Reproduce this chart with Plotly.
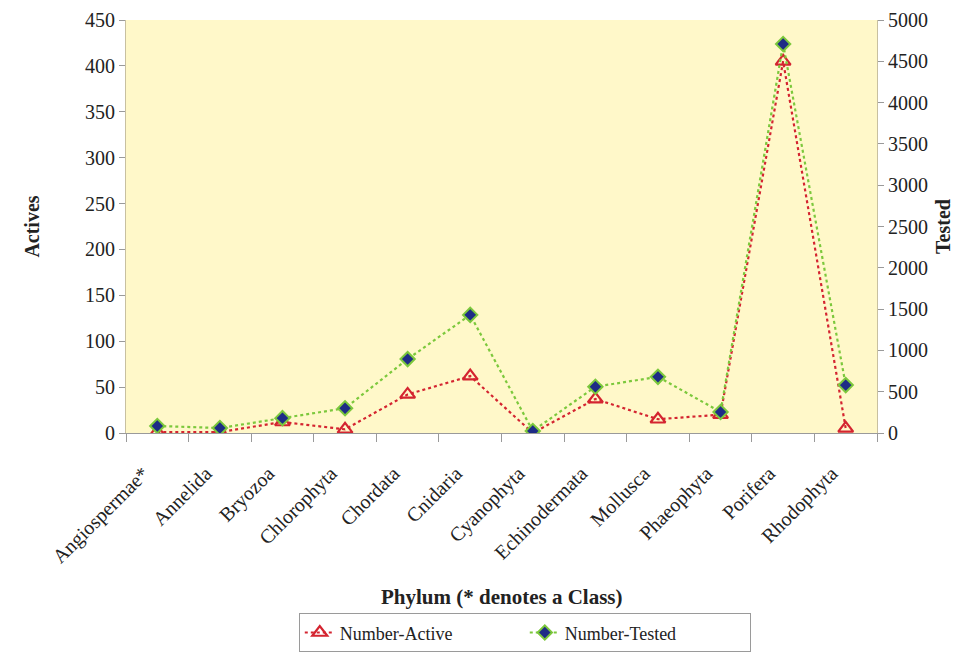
import plotly.graph_objects as go

# Phylum categories and screening counts
phyla = ["Angiospermae*", "Annelida", "Bryozoa", "Chlorophyta", "Chordata",
         "Cnidaria", "Cyanophyta", "Echinodermata", "Mollusca", "Phaeophyta",
         "Porifera", "Rhodophyta"]
number_active = [1, 1, 12, 4, 42, 62, 0, 37, 15, 20, 405, 5]
number_tested = [85, 60, 180, 300, 895, 1430, 25, 560, 680, 255, 4710, 580]

left_ticks = [0, 50, 100, 150, 200, 250, 300, 350, 400, 450]
right_ticks = [0, 500, 1000, 1500, 2000, 2500, 3000, 3500, 4000, 4500, 5000]

FONT = "Liberation Serif"
RED = "#D42430"
GREEN = "#7CC83C"
NAVY = "#1E2C86"

fig = go.Figure()
fig.add_trace(go.Scatter(
    x=phyla, y=number_active, name="Number-Active", yaxis="y",
    mode="lines+markers",
    line=dict(color=RED, width=2.2, dash="dot"),
    marker=dict(symbol="triangle-up-open", size=13, color=RED,
                line=dict(color=RED, width=2.2)),
))
fig.add_trace(go.Scatter(
    x=phyla, y=number_tested, name="Number-Tested", yaxis="y2",
    mode="lines+markers",
    line=dict(color=GREEN, width=2.2, dash="dot"),
    marker=dict(symbol="diamond", size=11, color=NAVY,
                line=dict(color=GREEN, width=2)),
))

axis_font = dict(family=FONT, size=20, color="#222")
fig.update_layout(
    width=964, height=654,
    margin=dict(l=126, r=87, t=20, b=221, autoexpand=False),
    paper_bgcolor="white",
    plot_bgcolor="#FFF8C9",
    font=dict(family=FONT, size=20, color="#222"),
    showlegend=True,
    legend=dict(orientation="h", x=0.531, y=-0.531, xanchor="center",
                yanchor="bottom", bordercolor="#9A9A9A", borderwidth=1,
                font=dict(family=FONT, size=18, color="#222"),
                entrywidth=180, entrywidthmode="pixels",
                tracegroupgap=0),
    xaxis=dict(
        type="category", tickangle=-45, tickson="boundaries",
        ticks="outside", ticklen=8, tickcolor="#9A9A9A",
        showline=True, linecolor="#9A9A9A", linewidth=1,
        showgrid=False, tickfont=axis_font, range=[-0.5, 11.5],
        automargin=False, ticklabelstandoff=20, ticklabelshift=-14,
    ),
    yaxis=dict(
        range=[0, 450], tickvals=left_ticks, ticks="outside", ticklen=6,
        tickcolor="#9A9A9A", showline=True, linecolor="#C8C0A0",
        showgrid=False, zeroline=False, tickfont=axis_font, automargin=False,
        title=dict(text="<b>Actives</b>", font=dict(family=FONT, size=20),
                   standoff=40),
    ),
    yaxis2=dict(
        range=[0, 5000], tickvals=right_ticks, overlaying="y", side="right",
        ticks="outside", ticklen=6, tickcolor="#9A9A9A", showline=True,
        linecolor="#C8C0A0", showgrid=False, zeroline=False,
        tickfont=axis_font, automargin=False,
        title=dict(text="<b>Tested</b>", font=dict(family=FONT, size=20),
                   standoff=8),
    ),
    annotations=[dict(
        text="<b>Phylum (* denotes a Class)</b>", xref="paper", yref="paper",
        x=0.5, y=-0.397, xanchor="center", yanchor="middle", showarrow=False,
        font=dict(family=FONT, size=21, color="#222"),
    )],
)

fig.write_html("out.html")
